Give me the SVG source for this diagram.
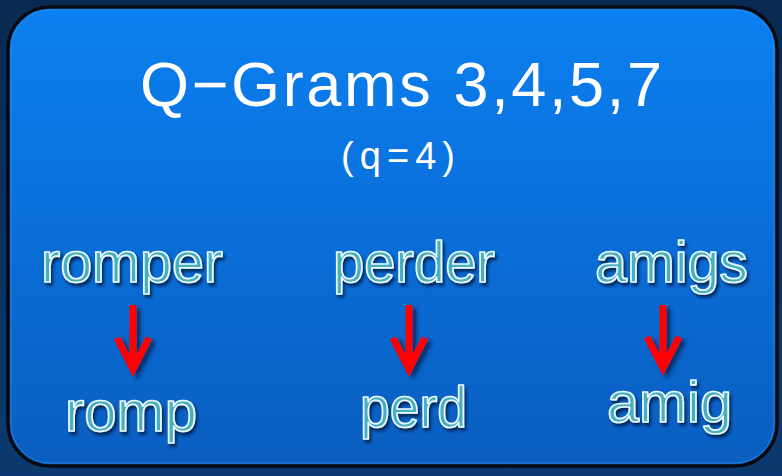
<svg xmlns="http://www.w3.org/2000/svg" width="782" height="476" viewBox="0 0 782 476">
  <defs>
    <linearGradient id="bg" x1="0" y1="0" x2="0" y2="1">
      <stop offset="0" stop-color="#082a52"/>
      <stop offset="1" stop-color="#0b3a70"/>
    </linearGradient>
    <linearGradient id="panel" x1="0" y1="0" x2="0" y2="1">
      <stop offset="0" stop-color="#0b80f0"/>
      <stop offset="0.5" stop-color="#0a6ed8"/>
      <stop offset="1" stop-color="#0a5ec0"/>
    </linearGradient>
    <filter id="shadow" x="-20%" y="-20%" width="140%" height="140%">
      <feDropShadow dx="2" dy="3" stdDeviation="1.5" flood-color="#001a40" flood-opacity="0.8"/>
    </filter>
    <filter id="ashadow" x="-30%" y="-20%" width="160%" height="140%">
      <feDropShadow dx="4" dy="3" stdDeviation="2" flood-color="#002050" flood-opacity="0.8"/>
    </filter>
  </defs>
  <style>
    .title { font-family: "Liberation Sans", Arial, sans-serif; fill: #ffffff; }
    .word { font-family: "Liberation Sans", Arial, sans-serif; font-size: 57px; fill: #4aaec2; stroke: #eafcff; stroke-width: 1.7; stroke-linejoin: round; filter: url(#shadow); }
    .arrow { fill: none; stroke: #ff0000; stroke-width: 7; filter: url(#ashadow); }
  </style>
  <rect x="0" y="0" width="782" height="476" fill="url(#bg)"/>
  <rect x="8" y="7" width="769" height="459" rx="42" ry="42" fill="url(#panel)" stroke="#0a0a10" stroke-width="3.5"/>
  <rect x="11" y="10" width="763" height="453" rx="39" ry="39" fill="none" stroke="#3a8fe8" stroke-width="1" opacity="0.6"/>

  <g id="title">
    <text class="title" x="140" y="106" font-size="63" textLength="522" lengthAdjust="spacing">Q−Grams 3,4,5,7</text>
    <text class="title" x="341" y="169" font-size="38" textLength="114" lengthAdjust="spacing">(q=4)</text>
  </g>

  <g id="romper"><text class="word" x="41" y="282" textLength="182" lengthAdjust="spacingAndGlyphs">romper</text></g>
  <g id="romp"><text class="word" x="65" y="431" textLength="132" lengthAdjust="spacingAndGlyphs">romp</text></g>
  <g id="perder"><text class="word" x="333" y="282" textLength="162" lengthAdjust="spacingAndGlyphs">perder</text></g>
  <g id="perd"><text class="word" x="360" y="427" textLength="107" lengthAdjust="spacingAndGlyphs">perd</text></g>
  <g id="amigs"><text class="word" x="595" y="282" textLength="153" lengthAdjust="spacingAndGlyphs">amigs</text></g>
  <g id="amig"><text class="word" x="607" y="422" textLength="125" lengthAdjust="spacingAndGlyphs">amig</text></g>

  <g id="connectors">
    <path class="arrow" d="M133 305 V368 M117 338 L133 369 L149 338"/>
    <path class="arrow" d="M409 305 V368 M393 338 L409 369 L425 338"/>
    <path class="arrow" d="M663 305 V367 M647 337 L663 368 L679 337"/>
  </g>
</svg>
